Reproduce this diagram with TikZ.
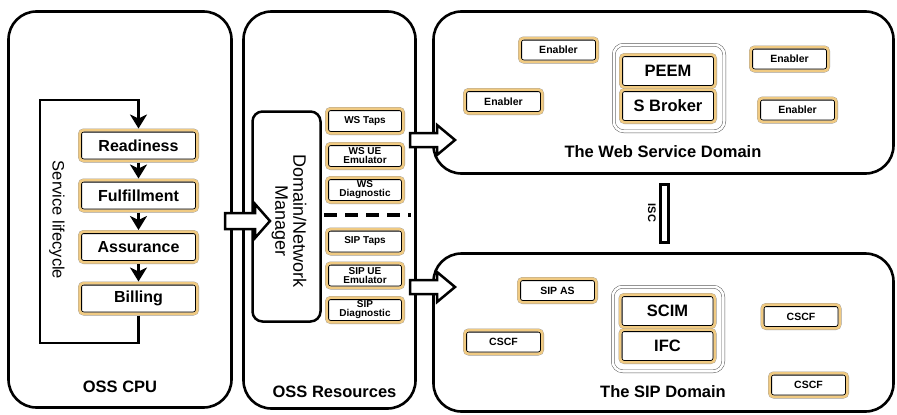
\documentclass[tikz,border=0pt]{standalone}
\usepackage{fontspec}
\setmainfont{Liberation Sans}
\usetikzlibrary{arrows.meta,calc}
\definecolor{gold}{RGB}{240,202,130}
\definecolor{frame}{RGB}{90,90,90}
\tikzset{
  bigbox/.style={draw=black, line width=2.6pt, rounded corners=28pt, inner sep=0pt, fill=white},
  goldbox/.style={draw=gold, line width=2.6pt, fill=white,
    preaction={draw=black!40, line width=3.2pt},
    path picture={\draw[black, line width=1.1pt, rounded corners=2pt]
      ([shift={(1.85pt,1.85pt)}]path picture bounding box.south west) rectangle
      ([shift={(-1.85pt,-1.85pt)}]path picture bounding box.north east);},
    rounded corners=4pt, inner sep=0pt, outer sep=1.6pt, align=center},
  stagebox/.style={goldbox, minimum width=117.8pt, minimum height=30.8pt, font=\fontsize{16}{18}\selectfont\bfseries},
  smallbox/.style={goldbox, minimum width=76.8pt, minimum height=24.8pt, font=\fontsize{10}{9}\selectfont\bfseries},
  elembox/.style={goldbox, minimum width=77.8pt, minimum height=23.8pt, font=\fontsize{10.5}{10}\selectfont\bfseries},
  corebox/.style={goldbox, minimum width=94.8pt, minimum height=32.8pt, font=\fontsize{16.5}{18}\selectfont\bfseries},
  coreframe/.style={draw=frame, line width=0.5pt, double=white, double distance=2.5pt, rounded corners=10pt, fill=white, inner sep=0pt},
  title/.style={font=\fontsize{16.5}{18}\selectfont\bfseries, inner sep=0pt},
  flow/.style={draw=black, line width=2.6pt, line join=miter, -{Stealth[length=14pt,width=17pt,inset=4pt]}},
  barrow/.style={draw=black, line width=2.5pt, fill=white, line join=miter},
  iscbar/.style={draw=black, line width=3pt, double=white, double distance=5pt, line cap=rect},
  sepline/.style={draw=black, line width=3.5pt, dash pattern=on 13pt off 8pt}
}
\newcommand\myblockarrow[5]{%
  \draw[barrow] let \p1=(#1), \p2=(#2) in
    (\x1,\y1+#3) -- (\x2-#5,\y1+#3) -- (\x2-#5,\y1+#4) -- (\x2,\y2)
    -- (\x2-#5,\y1-#4) -- (\x2-#5,\y1-#3) -- (\x1,\y1-#3) -- cycle;}
\begin{document}
\begin{tikzpicture}[x=1pt,y=-1pt]
\useasboundingbox (0,0) rectangle (897,415);
% big containers
\node[bigbox, minimum width=223pt, minimum height=396pt] (cpu) at (120,209.5) {};
\node[bigbox, minimum width=172pt, minimum height=397pt] (res) at (329.5,210) {};
\node[bigbox, minimum width=460pt, minimum height=162pt] (web) at (663.5,92.5) {};
\node[bigbox, minimum width=460pt, minimum height=158pt] (sip) at (663.5,332.5) {};

% OSS CPU
\node[stagebox] (ready) at (138.5,145.5) {Readiness};
\node[stagebox] (ful) at (138.5,195.5) {Fulfillment};
\node[stagebox] (ass) at (138.5,247) {Assurance};
\node[stagebox] (bill) at (138.5,298.5) {Billing};
\draw[flow] (ready.south) -- (ful.north);
\draw[flow] (ful.south) -- (ass.north);
\draw[flow] (ass.south) -- (bill.north);
\coordinate (lbl) at (40,343);
\coordinate (ltl) at (40,100);
\draw[flow] (bill.south) |- (lbl) -- (ltl) -| (ready.north);
\node[rotate=-90, font=\fontsize{16.5}{18}\selectfont, inner sep=0pt] (slc) at (57,220) {Service lifecycle};
\node[title] (cputitle) at (120,387) {OSS CPU};

% OSS Resources
\node[draw=black, line width=2.5pt, rounded corners=10pt, minimum width=68pt, minimum height=210pt, fill=white, inner sep=0pt] (dnm) at (286.5,216.5) {};
\node[rotate=-90, align=center, font=\fontsize{18}{18}\selectfont, inner sep=0pt] (dnmtext) at (289,221) {Domain/Network\\Manager};
\node[smallbox] (wstaps) at (365,121) {WS Taps};
\node[smallbox] (wsue) at (365,156) {WS UE\\Emulator};
\node[smallbox] (wsdiag) at (365,190) {WS\\Diagnostic};
\node[smallbox] (siptaps) at (365,241.5) {SIP Taps};
\node[smallbox] (sipue) at (365,275.5) {SIP UE\\Emulator};
\node[smallbox] (sipdiag) at (365,310) {SIP\\Diagnostic};
\coordinate (dashL) at (324,215);
\coordinate (dashR) at (411,215);
\draw[sepline] (dashL) -- (dashR);
\node[title] (restitle) at (334.5,392) {OSS Resources};

% Web Service Domain
\node[elembox] (en1) at (558.5,50) {Enabler};
\node[elembox] (en2) at (503.5,101.5) {Enabler};
\node[elembox] (en3) at (789.5,59) {Enabler};
\node[elembox] (en4) at (797.5,110) {Enabler};
\node[coreframe, minimum width=110.5pt, minimum height=86.5pt] (wscore) at (669,88) {};
\node[corebox] (peem) at (668,71) {PEEM};
\node[corebox] (sbroker) at (668,106) {S Broker};
\node[title] (webtitle) at (663,152) {The Web Service Domain};

% SIP Domain
\node[elembox] (sipas) at (557.5,290.5) {SIP AS};
\node[elembox] (cscf1) at (503.5,342) {CSCF};
\node[elembox] (cscf2) at (801,316.5) {CSCF};
\node[elembox] (cscf3) at (808.5,385) {CSCF};
\node[coreframe, minimum width=110.5pt, minimum height=84.5pt] (sipcore) at (668,329) {};
\node[corebox] (scim) at (667.5,311) {SCIM};
\node[corebox] (ifc) at (667.5,346) {IFC};
\node[title] (siptitle) at (663,392) {The SIP Domain};

% ISC
\coordinate (iscA) at (664.5,188.5);
\coordinate (iscB) at (664.5,238.5);
\draw[iscbar] (iscA) -- (iscB);
\node[rotate=-90, font=\fontsize{11}{12}\selectfont\bfseries, inner sep=0pt] (isc) at (652,213) {ISC};

% block arrows
\coordinate (a1s) at (225,221);
\coordinate (a1t) at (270,221);
\myblockarrow{a1s}{a1t}{8pt}{17pt}{15pt}
\coordinate (a2s) at (410,140);
\coordinate (a2t) at (455,140);
\myblockarrow{a2s}{a2t}{7pt}{15pt}{18pt}
\coordinate (a3s) at (410,287);
\coordinate (a3t) at (455,287);
\myblockarrow{a3s}{a3t}{7pt}{15pt}{18pt}
\end{tikzpicture}
\end{document}
